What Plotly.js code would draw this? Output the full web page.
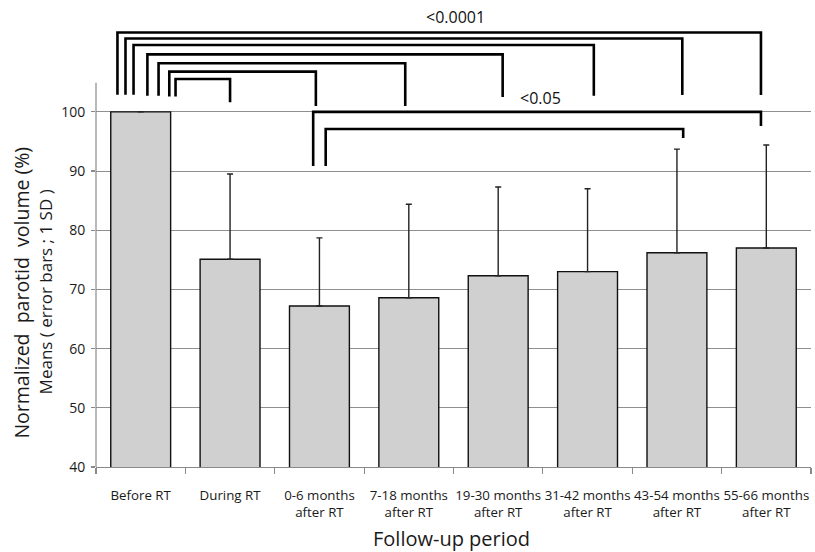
<!DOCTYPE html>
<html>
<head>
<meta charset="utf-8">
<script src="https://cdn.plot.ly/plotly-3.0.1.min.js"></script>
<style>html,body{margin:0;padding:0;background:#fff;}#chart{width:815px;height:552px;}</style>
</head>
<body>
<div id="chart"></div>
<script>
// ---- data ----
const categories = ['Before RT', 'During RT', '0-6 months<br>after RT', '7-18 months<br>after RT',
  '19-30 months<br>after RT', '31-42 months<br>after RT', '43-54 months<br>after RT', '55-66 months<br>after RT'];
const means = [100, 75.1, 67.2, 68.6, 72.3, 73.0, 76.2, 77.0];
const sdPlus = [0, 14.4, 11.5, 15.8, 15.0, 14.0, 17.5, 17.4];
const yTicks = [40, 50, 60, 70, 80, 90, 100];

// significance comparisons
const outerFrom = 0;                       // Before RT
const outerTargets = [7, 6, 5, 4, 3, 2, 1];
const outerLabel = '&lt;0.0001';
const innerFrom = 2;                       // 0-6 months after RT
const innerTargets = [7, 6];
const innerLabel = '&lt;0.05';

// ---- bracket geometry (style) ----
const Y0 = 40, Y1 = 114.5;
const outerLeftOff = [-0.26, -0.17, -0.08, 0.075, 0.20, 0.32, 0.39];
const outerRightOff = [-0.06, 0.06, 0.07, 0.05, -0.04, -0.04, 0.0];
const outerTop = [113.4, 112.4, 111.3, 109.7, 108.2, 106.8, 105.55];
const outerLeftBottom = [102.9, 102.9, 102.9, 102.7, 102.7, 102.6, 102.6];
const outerRightBottom = [102.85, 102.85, 102.7, 102.5, 101.0, 101.0, 101.6];
const innerLeftOff = [-0.07, 0.07];
const innerRightOff = [-0.06, 0.07];
const innerTop = [100.0, 97.1];
const innerLeftBottom = [90.85, 90.85];
const innerRightBottom = [97.6, 95.6];

const shapes = [];
function bracket(x0, yb0, top, x1, yb1) {
  shapes.push({type: 'path', xref: 'x', yref: 'y',
    path: `M ${x0} ${yb0} L ${x0} ${top} L ${x1} ${top} L ${x1} ${yb1}`,
    line: {color: '#000', width: 2.6}, layer: 'above'});
}
outerTargets.forEach((t, i) => bracket(outerFrom + outerLeftOff[i], outerLeftBottom[i], outerTop[i],
  t + outerRightOff[i], outerRightBottom[i]));
innerTargets.forEach((t, i) => bracket(innerFrom + innerLeftOff[i], innerLeftBottom[i], innerTop[i],
  t + innerRightOff[i], innerRightBottom[i]));

// y axis line (only up to ~105)
shapes.push({type: 'line', xref: 'paper', yref: 'y', x0: 0, x1: 0, y0: 40, y1: 104.9,
  line: {color: '#8a8a8a', width: 1.2}, layer: 'above'});

const trace = {
  type: 'bar',
  x: categories,
  y: means,
  marker: {color: '#d0d0d0', line: {color: '#111', width: 1.4}},
  error_y: {type: 'data', symmetric: false, array: sdPlus, arrayminus: means.map(() => 0),
    color: '#222', thickness: 1.4, width: 3},
  hoverinfo: 'x+y'
};

const toPaper = v => (v - Y0) / (Y1 - Y0);
const font = '"Open Sans", Lato, sans-serif';
const layout = {
  width: 815, height: 552,
  margin: {l: 96, r: 4, t: 26, b: 85},
  paper_bgcolor: '#fff', plot_bgcolor: '#fff',
  showlegend: false,
  bargap: 0.33,
  font: {family: font, color: '#1a1a1a'},
  xaxis: {
    type: 'category', range: [-0.5, 7.5],
    showline: true, linecolor: '#8a8a8a', linewidth: 1.2,
    ticks: 'outside', tickson: 'boundaries', ticklen: 6, tickcolor: '#8a8a8a', tickwidth: 1.2,
    tickangle: 0,
    tickfont: {family: font, size: 13.3, color: '#1a1a1a'},
    ticklabelstandoff: 16,
    showgrid: false, zeroline: false
  },
  yaxis: {
    range: [Y0, Y1], tickvals: yTicks, ticktext: yTicks.map(String),
    showline: false, ticks: 'outside', ticklen: 4, tickcolor: '#8a8a8a', tickwidth: 1.2,
    showgrid: true, gridcolor: '#8f8f8f', gridwidth: 1,
    zeroline: false,
    tickfont: {family: font, size: 14, color: '#1a1a1a'},
    ticklabelstandoff: 3
  },
  shapes: shapes,
  annotations: [
    {text: outerLabel, xref: 'x', yref: 'paper', x: 3.52, y: toPaper(116.0), showarrow: false,
      font: {family: font, size: 16, color: '#111'}, xanchor: 'center', yanchor: 'middle'},
    {text: innerLabel, xref: 'x', yref: 'y', x: 4.47, y: 102.4, showarrow: false,
      font: {family: font, size: 16, color: '#111'}, xanchor: 'center', yanchor: 'middle'},
    {text: 'Normalized&nbsp; parotid&nbsp; volume (%)', xref: 'paper', yref: 'y', x: -0.104, y: 69.4,
      textangle: -90, showarrow: false, font: {family: font, size: 19.5, color: '#1a1a1a'},
      xanchor: 'center', yanchor: 'middle'},
    {text: 'Means ( error bars ; 1 SD )', xref: 'paper', yref: 'y', x: -0.0713, y: 69.5,
      textangle: -90, showarrow: false, font: {family: font, size: 17, color: '#1a1a1a'},
      xanchor: 'center', yanchor: 'middle'},
    {text: 'Follow-up period', xref: 'paper', yref: 'paper', x: 0.497, y: -0.162,
      showarrow: false, font: {family: font, size: 20, color: '#1a1a1a'},
      xanchor: 'center', yanchor: 'middle'}
  ]
};

Plotly.newPlot('chart', [trace], layout, {staticPlot: true});
</script>
</body>
</html>
